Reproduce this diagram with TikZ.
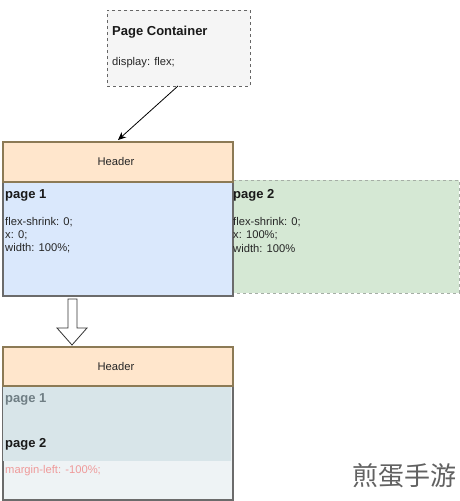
\documentclass[tikz,border=0pt]{standalone}
\usepackage{fontspec}
\setmainfont{Liberation Sans}
\newfontfamily\cjk{Noto Sans CJK SC}
\usetikzlibrary{arrows.meta,shapes.arrows}
\definecolor{hdrfill}{HTML}{FFE6CC}
\definecolor{hdrdraw}{HTML}{8C7A55}
\definecolor{p1fill}{HTML}{DAE8FC}
\definecolor{p2fill}{HTML}{D5E8D4}
\definecolor{boxdraw}{HTML}{6B6B6B}
\definecolor{mixfill}{HTML}{D8E5E9}
\definecolor{lowfill}{HTML}{EEF3F5}
\definecolor{pcfill}{HTML}{F5F5F5}
\definecolor{greytext}{HTML}{6F7E84}
\definecolor{redtext}{HTML}{EE9A9A}
\tikzset{
  body/.style={font=\fontsize{11.2}{13}\selectfont, anchor=west, inner sep=0pt, text=black!85},
  title/.style={font=\fontsize{13}{15}\selectfont\bfseries, anchor=west, inner sep=0pt, text=black!90},
  hdrtext/.style={font=\fontsize{11.2}{13}\selectfont, inner sep=0pt, text=black!85},
}
\begin{document}
\begin{tikzpicture}[x=1pt,y=-1pt]
\useasboundingbox[fill=white] (0,0) rectangle (459,501);
% Page container
\node[draw=black!60, dashed, fill=pcfill, minimum width=143pt, minimum height=76pt, anchor=north west, inner sep=0pt] (pc) at (107,10) {};
\node[title] (pct) at (112,32) {Page Container};
\node[body] (pcd) at (112,63) {display: flex;};
% top container
\node[draw=p2fill!60!black!70, dashed, fill=p2fill, minimum width=228pt, minimum height=113pt, anchor=north west, inner sep=0pt] (p2) at (231,180) {};
\node[draw=boxdraw, line width=1.6pt, fill=p1fill, minimum width=230pt, minimum height=114pt, anchor=north west, inner sep=0pt] (p1) at (2,181) {};
\node[draw=hdrdraw, line width=1.6pt, fill=hdrfill, minimum width=230pt, minimum height=40pt, anchor=north west, inner sep=0pt] (h1) at (2,141) {};
\node[hdrtext] (h1t) at (116,161) {Header};
\node[title] (p1t) at (5,195) {page 1};
\node[body] (p1a) at (5,222) {flex-shrink: 0;};
\node[body] (p1b) at (5,235) {x: 0;};
\node[body] (p1c) at (5,248) {width: 100\%;};
\node[title] (p2t) at (233,195) {page 2};
\node[body] (p2a) at (233,222) {flex-shrink: 0;};
\node[body] (p2b) at (233,235) {x: 100\%;};
\node[body] (p2c) at (233,248) {width: 100\%};
% arrow
\coordinate (as) at (178,86);
\coordinate (ae) at (118,140);
\draw[-{Stealth[length=8pt,width=7pt]}, black, line width=0.8pt] (as) -- (ae);
% hollow down arrow
\draw[black!80, line width=0.8pt, fill=white] (68,299) -- (77,299) -- (77,328) -- (87,328) -- (72,345) -- (57,328) -- (68,328) -- cycle;
% bottom container
\node[draw=boxdraw, line width=1.6pt, fill=lowfill, minimum width=230pt, minimum height=153pt, anchor=north west, inner sep=0pt] (b) at (2,346) {};
\fill[mixfill] (2.8,385) rectangle (231.2,461);
\node[draw=hdrdraw, line width=1.6pt, fill=hdrfill, minimum width=230pt, minimum height=39pt, anchor=north west, inner sep=0pt] (h2) at (2,346) {};
\node[hdrtext] (h2t) at (116,366) {Header};
\node[title, text=greytext] (b1t) at (5,399) {page 1};
\node[title] (b2t) at (5,444) {page 2};
\node[body, text=redtext] (bm) at (5,471) {margin-left: -100\%;};
% watermark
\node[font=\cjk\fontsize{26}{28}\selectfont, text=black!62, anchor=east, inner sep=0pt] (wm) at (457,476) {煎蛋手游};
\end{tikzpicture}
\end{document}
